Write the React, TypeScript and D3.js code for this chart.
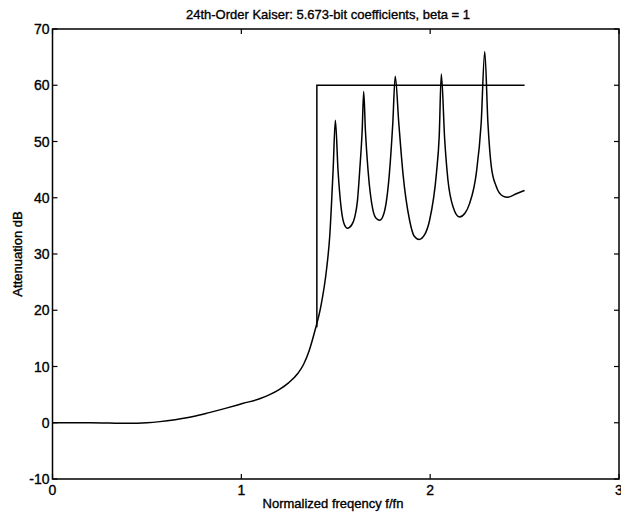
import React from "react";
import * as d3 from "d3";

const freq = [0, 0.1, 0.2, 0.3, 0.4, 0.5, 0.569, 0.65, 0.745, 0.83, 0.92, 1.01, 1.1, 1.15, 1.2, 1.25, 1.3, 1.33, 1.36, 1.39, 1.42, 1.451, 1.468, 1.486, 1.498, 1.512, 1.53, 1.545, 1.562, 1.585, 1.601, 1.615, 1.627, 1.64, 1.648, 1.657, 1.671, 1.697, 1.715, 1.733, 1.755, 1.784, 1.802, 1.815, 1.834, 1.856, 1.891, 1.915, 1.941, 1.97, 1.997, 2.033, 2.048, 2.059, 2.077, 2.094, 2.121, 2.155, 2.185, 2.209, 2.244, 2.27, 2.289, 2.306, 2.324, 2.35, 2.385, 2.411, 2.456, 2.5];
const atten = [0, 0, 0, -0.05, -0.1, 0, 0.2, 0.55, 1.1, 1.8, 2.6, 3.45, 4.3, 5.0, 5.9, 7.1, 8.8, 10.4, 12.9, 16.4, 20.5, 27.2, 33.1, 44.9, 53.8, 44.9, 37.8, 35.3, 34.6, 35.2, 36.6, 39.5, 44.9, 52, 58.9, 52, 44.9, 37.8, 36.3, 36.0, 37.2, 44.3, 53.2, 61.6, 53.2, 44.3, 36, 33.2, 32.6, 33.4, 36, 44.3, 51, 62, 50.3, 43.2, 38.4, 36.6, 37.3, 39, 44.3, 53.2, 66, 53.2, 45.5, 42, 40.3, 40.1, 40.7, 41.3];

const specF = [1.4, 1.4, 2.5];
const specDb = [17, 60, 60];

const xTicks = [0, 1, 2, 3];
const yTicks = [-10, 0, 10, 20, 30, 40, 50, 60, 70];

const title = "24th-Order Kaiser: 5.673-bit coefficients, beta = 1";
const xLabel = "Normalized freqency f/fn";
const yLabel = "Attenuation dB";

export default function App() {
  const W = 621, H = 519;
  const L = 52.5, R = 619, T = 29, B = 479;
  const x = d3.scaleLinear().domain([0, 3]).range([L, R]);
  const y = d3.scaleLinear().domain([-10, 70]).range([B, T]);
  const pts: [number, number][] = freq.map((f, i) => [f, atten[i]]);
  const line = d3.line<[number, number]>().x(d => x(d[0])).y(d => y(d[1])).curve(d3.curveMonotoneX);
  const specPts: [number, number][] = specF.map((f, i) => [f, specDb[i]]);
  const specLine = d3.line<[number, number]>().x(d => x(d[0])).y(d => y(d[1]));
  const font = "'Liberation Sans', Arial, Helvetica, sans-serif";
  const tl = 5;
  const ts = { fill: "#000", stroke: "#000", strokeWidth: 0.35 };
  return (
    <svg width={W} height={H} style={{ position: "absolute", left: 0, top: 0, background: "#fff" }} fontFamily={font}>
      <rect x={0} y={0} width={W} height={H} fill="#fff" />
      <text x={328} y={19} textAnchor="middle" fontSize={13} {...ts}>{title}</text>
      <rect x={L} y={T} width={R - L} height={B - T} fill="none" stroke="#000" strokeWidth={1.5} />
      {xTicks.map(t => (
        <g key={"x" + t}>
          <line x1={x(t)} x2={x(t)} y1={B} y2={B - tl} stroke="#000" strokeWidth={1.2} />
          <line x1={x(t)} x2={x(t)} y1={T} y2={T + tl} stroke="#000" strokeWidth={1.2} />
          <text x={x(t)} y={B + 16} textAnchor="middle" fontSize={14} {...ts}>{t}</text>
        </g>
      ))}
      {yTicks.map(t => (
        <g key={"y" + t}>
          <line x1={L} x2={L + tl} y1={y(t)} y2={y(t)} stroke="#000" strokeWidth={1.2} />
          <line x1={R} x2={R - tl} y1={y(t)} y2={y(t)} stroke="#000" strokeWidth={1.2} />
          <text x={L - 3} y={y(t) + 5} textAnchor="end" fontSize={14} {...ts}>{t}</text>
        </g>
      ))}
      <text x={333} y={508} textAnchor="middle" fontSize={13} {...ts}>{xLabel}</text>
      <text transform={`translate(${22},${(T + B) / 2}) rotate(-90)`} textAnchor="middle" fontSize={13} {...ts}>{yLabel}</text>
      <path d={specLine(specPts) || ""} fill="none" stroke="#000" strokeWidth={1.5} />
      <path d={line(pts) || ""} fill="none" stroke="#000" strokeWidth={1.5} />
    </svg>
  );
}
